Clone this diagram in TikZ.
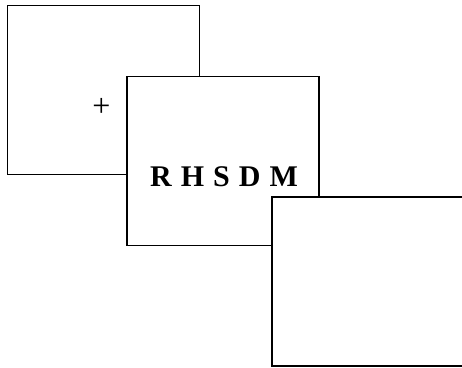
\documentclass[tikz,border=0pt]{standalone}
\usepackage{fontspec}
\setmainfont{Liberation Serif}

\begin{document}
\begin{tikzpicture}[x=1pt, y=-1pt, every node/.style={font=\small},
	screen/.style={draw, line width=1.2pt, fill=white, inner sep=0pt, minimum width=192pt, minimum height=169pt}]
	\useasboundingbox (0,0) rectangle (462,367);
	\clip (0,0) rectangle (462,367);
	\node[screen] (fixation) at (103.5,90) {};
	\node[font=\fontsize{32}{32}\selectfont] (cross) at (101.5,107.5) {+};
	\node[screen] (stimulus) at (223,161) {};
	\node[font=\fontsize{30}{30}\selectfont\bfseries] (letters) at (224,177) {R\hspace{0.3em}H\hspace{0.3em}S\hspace{0.3em}D\hspace{0.3em}M};
	\node[screen] (mask) at (368,281.5) {};
\end{tikzpicture}
\end{document}
